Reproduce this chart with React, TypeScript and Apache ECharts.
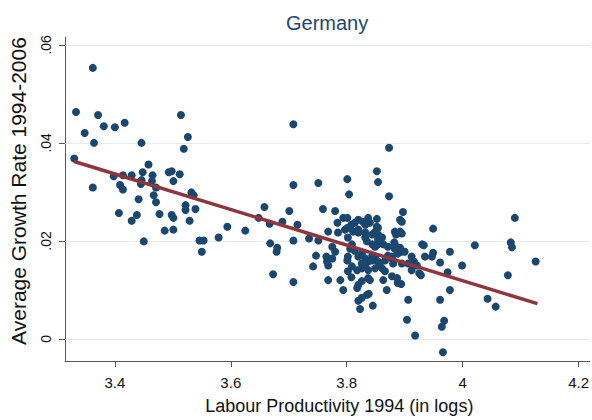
import React, { useEffect, useRef } from 'react';
import * as echarts from 'echarts';

const chartTitle = 'Germany';
const xAxisTitle = 'Labour Productivity 1994 (in logs)';
const yAxisTitle = 'Average Growth Rate 1994-2006';
const xTicks = [3.4, 3.6, 3.8, 4, 4.2];
const yTicks = [0, 0.02, 0.04, 0.06];
const xRange = [3.314, 4.219];
const yRange = [-0.0045, 0.0616];
const fitLogs = [3.33, 4.129];
const fitGrowth = [0.0362, 0.0072];

// [labour productivity 1994 (log), average growth rate 1994-2006]
const observations: [number, number][] = [
  [3.362, 0.0553], [3.333, 0.0463], [3.371, 0.0457], [3.348, 0.042], [3.381, 0.0434],
  [3.4, 0.0432], [3.417, 0.0441], [3.364, 0.04], [3.446, 0.04], [3.514, 0.0457],
  [3.526, 0.0412], [3.519, 0.0388], [3.33, 0.0368], [3.458, 0.0356], [3.362, 0.0309],
  [3.398, 0.0332], [3.414, 0.0334], [3.429, 0.0334], [3.448, 0.034], [3.446, 0.0324],
  [3.445, 0.0316], [3.465, 0.0334], [3.464, 0.0322], [3.409, 0.0314], [3.414, 0.0305],
  [3.493, 0.034], [3.498, 0.0342], [3.512, 0.0336], [3.501, 0.0322], [3.467, 0.0293],
  [3.471, 0.0279], [3.441, 0.0285], [3.407, 0.0257], [3.438, 0.0253], [3.429, 0.0241],
  [3.477, 0.0255], [3.498, 0.0253], [3.501, 0.0247], [3.486, 0.0221], [3.501, 0.0223],
  [3.45, 0.0199], [3.532, 0.0299], [3.536, 0.0293], [3.522, 0.0273], [3.522, 0.0263],
  [3.539, 0.0265], [3.529, 0.0241], [3.546, 0.0201], [3.553, 0.0201], [3.55, 0.0178],
  [3.471, 0.0309], [3.579, 0.0207], [3.594, 0.0229], [3.625, 0.0221], [3.648, 0.0247],
  [3.658, 0.0269], [3.667, 0.0235], [3.668, 0.0195], [3.68, 0.0186], [3.679, 0.0178],
  [3.689, 0.0239], [3.701, 0.0261], [3.708, 0.0314], [3.708, 0.0201], [3.715, 0.0233],
  [3.673, 0.0132], [3.708, 0.0116], [3.708, 0.0438], [3.751, 0.0318], [3.759, 0.0265],
  [3.735, 0.0205], [3.747, 0.017], [3.742, 0.0148], [3.765, 0.0168], [3.766, 0.0158],
  [3.768, 0.012], [3.751, 0.0201], [3.873, 0.039], [3.852, 0.0342], [3.854, 0.032],
  [3.801, 0.0326], [3.804, 0.0295], [3.873, 0.0291], [3.897, 0.0259], [3.892, 0.0243],
  [3.78, 0.0261], [3.794, 0.0247], [3.801, 0.0247], [3.852, 0.0245], [3.784, 0.0237],
  [3.808, 0.0233], [3.814, 0.0237], [3.828, 0.0239], [3.84, 0.0237], [3.852, 0.0229],
  [3.883, 0.0219], [3.892, 0.0219], [3.882, 0.0197], [3.885, 0.0213], [3.895, 0.0215],
  [3.892, 0.0186], [3.894, 0.0178], [3.912, 0.0168], [3.916, 0.0158],
  [3.768, 0.0219], [3.785, 0.0217], [3.797, 0.0223], [3.811, 0.0219], [3.82, 0.0223],
  [3.832, 0.0217], [3.849, 0.0219], [3.854, 0.0213], [3.835, 0.0199], [3.844, 0.0193],
  [3.854, 0.0203], [3.863, 0.0193], [3.883, 0.0184], [3.775, 0.0188], [3.78, 0.0178],
  [3.775, 0.0164], [3.768, 0.015], [3.806, 0.0184], [3.802, 0.0168], [3.801, 0.016],
  [3.826, 0.0174], [3.832, 0.0164], [3.837, 0.0158], [3.844, 0.016], [3.849, 0.0168],
  [3.854, 0.0158], [3.857, 0.015], [3.871, 0.017], [3.878, 0.0164], [3.9, 0.0178],
  [3.921, 0.015], [3.925, 0.0134], [3.93, 0.0193], [3.809, 0.0148], [3.818, 0.014],
  [3.826, 0.0144], [3.837, 0.014], [3.849, 0.0144], [3.861, 0.0144], [3.866, 0.0138],
  [3.789, 0.012], [3.794, 0.01], [3.82, 0.011], [3.818, 0.0104], [3.837, 0.0124],
  [3.84, 0.012], [3.863, 0.012], [3.869, 0.01], [3.878, 0.0128], [3.887, 0.0124],
  [3.888, 0.0114], [3.826, 0.0084], [3.82, 0.0078], [3.835, 0.009], [3.823, 0.0061],
  [3.845, 0.0068], [3.906, 0.008], [3.904, 0.0039], [3.808, 0.0126], [3.826, 0.0118],
  [3.894, 0.0112], [3.838, 0.0092],
  [3.802, 0.0227], [3.82, 0.0243], [3.832, 0.0233], [3.837, 0.0247], [3.854, 0.0227],
  [3.844, 0.0213], [3.832, 0.0207], [3.82, 0.0217], [3.802, 0.0207], [3.809, 0.0193],
  [3.814, 0.018], [3.82, 0.0168], [3.826, 0.0154], [3.844, 0.017], [3.849, 0.0188],
  [3.854, 0.0193], [3.861, 0.0207], [3.871, 0.0188], [3.878, 0.0168], [3.883, 0.0193],
  [3.895, 0.0239], [3.888, 0.0174], [3.88, 0.0154], [3.895, 0.0154], [3.906, 0.0154],
  [3.912, 0.014], [3.866, 0.016], [3.832, 0.0148], [3.802, 0.0138],
  [3.949, 0.0225], [4.09, 0.0247], [3.933, 0.0191], [4.021, 0.0191], [4.083, 0.0197],
  [4.085, 0.0187], [3.935, 0.0168], [3.947, 0.0168], [3.949, 0.0176], [3.978, 0.0178],
  [3.961, 0.0156], [3.999, 0.015], [4.126, 0.0158], [3.928, 0.013], [3.974, 0.0136],
  [4.078, 0.013], [3.978, 0.01], [3.961, 0.008], [4.043, 0.0082], [4.057, 0.0066],
  [3.968, 0.0037], [3.964, 0.0025], [3.966, -0.0027], [3.918, 0.0007],
];

const axisColor = '#555555';
const textColor = '#111111';
const font = "'Liberation Sans', Arial, sans-serif";

export default function App() {
  const ref = useRef<HTMLDivElement>(null);
  useEffect(() => {
    const chart = echarts.init(ref.current!, null, { renderer: 'svg' });
    chart.setOption({
      animation: false,
      backgroundColor: '#ffffff',
      textStyle: { fontFamily: font },
      title: {
        text: chartTitle,
        left: 281,
        top: 8,
        textStyle: { color: '#1a476f', fontSize: 20, fontWeight: 'normal', fontFamily: font },
      },
      grid: { left: 64, right: 2, top: 37, bottom: 50 },
      xAxis: {
        type: 'value',
        min: xRange[0],
        max: xRange[1],
        name: xAxisTitle,
        nameLocation: 'middle',
        nameGap: 36,
        nameTextStyle: { fontSize: 18, color: textColor, fontFamily: font, padding: [0, 0, 0, 24] },
        axisLine: { show: true, onZero: false, lineStyle: { color: axisColor, width: 1 } },
        axisTick: { show: true, length: 6, customValues: xTicks, lineStyle: { color: axisColor } },
        axisLabel: {
          customValues: xTicks,
          fontSize: 15,
          color: textColor,
          margin: 14,
          fontFamily: font,
          formatter: (v: number) => String(+v.toFixed(1)),
        },
        splitLine: { show: false },
      },
      yAxis: {
        type: 'value',
        min: yRange[0],
        max: yRange[1],
        name: yAxisTitle,
        nameLocation: 'middle',
        nameRotate: 90,
        nameGap: 36,
        nameTextStyle: { fontSize: 21, color: textColor, fontFamily: font, padding: [0, 0, 0, 16] },
        axisLine: { show: true, onZero: false, lineStyle: { color: axisColor, width: 1 } },
        axisTick: { show: true, length: 6, customValues: yTicks, lineStyle: { color: axisColor } },
        axisLabel: {
          customValues: yTicks,
          rotate: 90,
          fontSize: 14,
          color: textColor,
          margin: 12,
          fontFamily: font,
          formatter: (v: number) => (v === 0 ? '0' : String(+v.toFixed(2)).replace(/^0/, '')),
        },
        splitLine: { show: false },
      },
      series: [
        {
          type: 'scatter',
          data: observations,
          symbolSize: 8,
          z: 2,
          itemStyle: { color: '#1a476f', opacity: 1 },
          markLine: {
            silent: true,
            z: 1,
            symbol: 'none',
            label: { show: false },
            emphasis: { disabled: true },
            lineStyle: { color: '#e3ecec', width: 1, type: 'solid' },
            data: yTicks.map((v) => ({ yAxis: v })),
          },
        },
        {
          type: 'line',
          data: fitLogs.map((x, i) => [x, fitGrowth[i]]),
          symbol: 'none',
          showSymbol: false,
          z: 3,
          lineStyle: { color: '#90353b', width: 3.5 },
        },
      ],
    });
    return () => chart.dispose();
  }, []);
  return (
    <div
      ref={ref}
      style={{ position: 'fixed', left: 0, top: 0, width: 592, height: 420, background: '#ffffff' }}
    />
  );
}
